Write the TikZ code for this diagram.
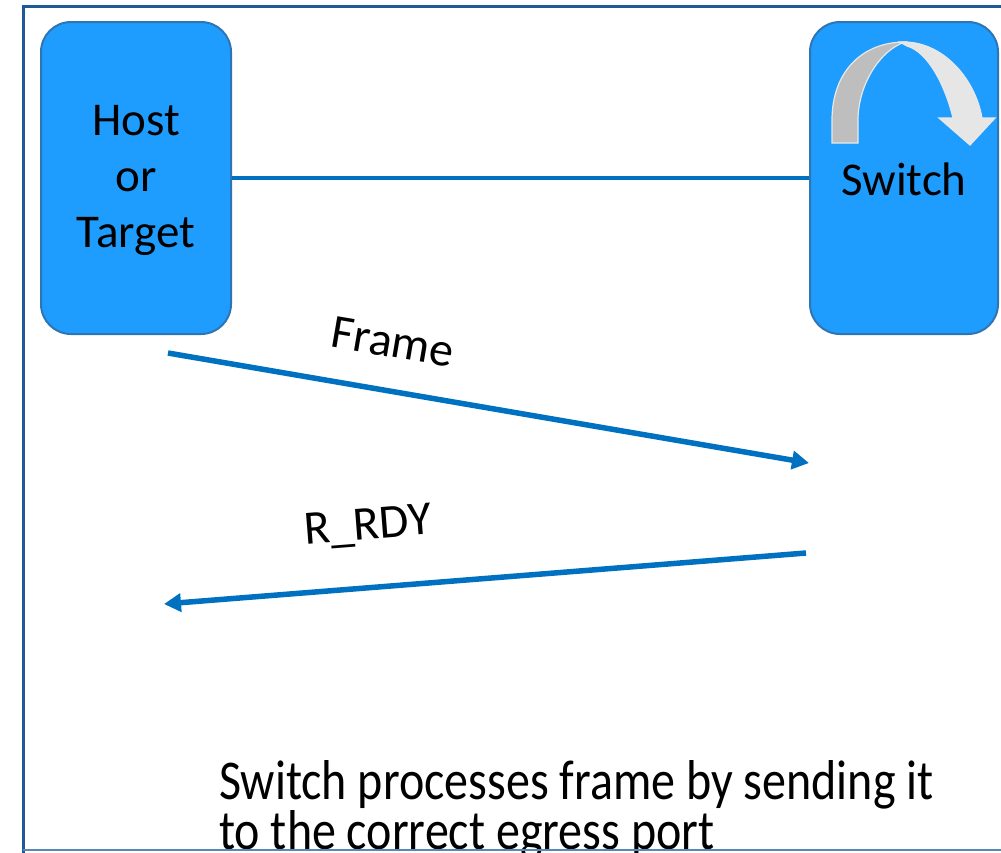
\documentclass[tikz,border=0pt]{standalone}
\usepackage{fontspec}
\setmainfont{Carlito}
\usetikzlibrary{arrows.meta}
\definecolor{boxfill}{RGB}{30,157,255}
\definecolor{boxline}{RGB}{46,117,182}
\definecolor{linkc}{RGB}{0,112,192}
\definecolor{framec}{RGB}{31,90,150}
\definecolor{framelow}{RGB}{90,135,185}
\definecolor{backband}{RGB}{190,190,190}
\definecolor{frontband}{RGB}{230,230,230}
\definecolor{bandedge}{RGB}{232,232,232}
\begin{document}
\begin{tikzpicture}[x=1pt,y=-1pt,
  device/.style={draw=boxline, line width=2pt, fill=boxfill, rounded corners=30pt, inner sep=0pt},
  devtext/.style={align=center, font=\fontsize{47}{56}\selectfont, inner sep=0pt},
  msg/.style={draw=linkc, line width=5.5pt, -{Triangle[length=17pt,width=18pt]}},
  msglabel/.style={font=\fontsize{48}{50}\selectfont, inner sep=0pt},
  note/.style={font=\fontsize{48}{54}\selectfont, anchor=base west, inner sep=0pt, yscale=1.17}]
\useasboundingbox (0,0) rectangle (1001,852);

% explanation (set first so the frame's lower edge lies over it)
\node[note] (note1) at (219,799.5) {Switch processes frame by sending it};
\node[note] (note2) at (219,849) {to the correct egress port};

% outer frame
\draw[framec, line width=3pt] (1010,6) -- (23,6) -- (23,860);
\draw[framelow, line width=2pt] (23,850) -- (1010,850);

% end stations
\node[device, minimum width=190pt, minimum height=312pt] (host) at (136,178) {};
\node[devtext] (hosttext) at (136,180.5) {Host\\or\\Target};
\node[device, minimum width=188pt, minimum height=312pt] (sw) at (904,178) {};
\node[devtext, anchor=base] (swtext) at (904,195) {Switch};

% link between host and switch
\draw[linkc, line width=4.5pt] (host.east) -- (sw.west);

% curved forwarding arrow inside the switch
\fill[backband, draw=bandedge, line width=1.2pt]
  (832,143) -- (832,120) .. controls (832,72) and (862,42) .. (905,42)
  .. controls (880,50) and (858,85) .. (858,120) -- (858,143) -- cycle;
\fill[frontband, draw=bandedge, line width=1.2pt]
  (900,42) .. controls (942,40) and (975,78) .. (982,118)
  -- (995,118) -- (970,145) -- (939,118) -- (953,118)
  .. controls (945,85) and (928,52) .. (907,46) -- cycle;

% frame and R_RDY exchange
\coordinate (f1) at (168,353);
\coordinate (f2) at (809,463);
\coordinate (r1) at (806,553);
\coordinate (r2) at (164,604);
\draw[msg] (f1) -- (f2);
\draw[msg] (r1) -- (r2);
\node[msglabel, rotate=-9.7] (flabel) at (393,342) {Frame};
\node[msglabel, rotate=4.5] (rlabel) at (368,527) {R\_RDY};
\end{tikzpicture}
\end{document}
